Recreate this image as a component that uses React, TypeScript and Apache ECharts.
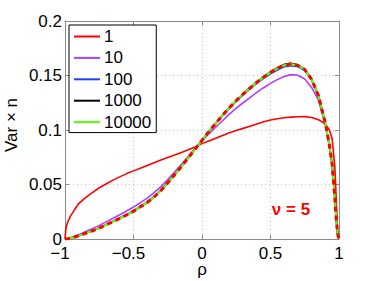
import React, { useEffect, useRef } from "react";
import * as echarts from "echarts";

const rho = [-1, -0.995, -0.99, -0.98, -0.96, -0.93, -0.9, -0.85, -0.8, -0.75, -0.7, -0.65, -0.6, -0.55, -0.5, -0.45, -0.4, -0.35, -0.3, -0.25, -0.2, -0.15, -0.1, -0.05, 0, 0.05, 0.1, 0.15, 0.2, 0.25, 0.3, 0.35, 0.4, 0.45, 0.5, 0.55, 0.6, 0.65, 0.7, 0.75, 0.8, 0.85, 0.9, 0.93, 0.95, 0.97, 0.98, 0.99, 0.995, 1];

const n1 = [0, 0.008, 0.0115, 0.0155, 0.021, 0.027, 0.0325, 0.038, 0.0425, 0.047, 0.0505, 0.054, 0.057, 0.06, 0.0625, 0.065, 0.0675, 0.07, 0.0725, 0.0748, 0.077, 0.0793, 0.0818, 0.0845, 0.0875, 0.09, 0.0925, 0.095, 0.0975, 0.0995, 0.1015, 0.1035, 0.1055, 0.1075, 0.1092, 0.1103, 0.1112, 0.1118, 0.1122, 0.1123, 0.1115, 0.1095, 0.1055, 0.1, 0.092, 0.066, 0.036, 0.008, 0.003, 0];

const n10 = [0, 0, 0.0002, 0.0005, 0.0012, 0.0025, 0.004, 0.0068, 0.0095, 0.0125, 0.0157, 0.019, 0.0222, 0.0257, 0.0293, 0.0333, 0.0375, 0.0425, 0.048, 0.0545, 0.0615, 0.0685, 0.0758, 0.0832, 0.0898, 0.0965, 0.1025, 0.1085, 0.1145, 0.12, 0.125, 0.1298, 0.1345, 0.1388, 0.1428, 0.1462, 0.149, 0.1508, 0.1502, 0.1468, 0.139, 0.1275, 0.105, 0.085, 0.068, 0.037, 0.018, 0.005, 0.002, 0];

const n100 = [0, 0, 0.0001, 0.0003, 0.0009, 0.002, 0.0032, 0.0055, 0.0078, 0.0104, 0.0134, 0.0164, 0.0195, 0.0226, 0.026, 0.03, 0.034, 0.039, 0.045, 0.052, 0.0595, 0.067, 0.0748, 0.0827, 0.0905, 0.0983, 0.1057, 0.113, 0.1198, 0.1262, 0.1322, 0.1376, 0.1428, 0.1474, 0.1515, 0.155, 0.158, 0.159, 0.158, 0.1545, 0.1458, 0.131, 0.1062, 0.0858, 0.0683, 0.037, 0.018, 0.005, 0.002, 0];

const n1000 = [0, 0, 0.0001, 0.0003, 0.0008, 0.0018, 0.003, 0.0052, 0.0075, 0.01, 0.013, 0.016, 0.019, 0.022, 0.0255, 0.0295, 0.0335, 0.0385, 0.0445, 0.0515, 0.059, 0.0665, 0.0745, 0.0825, 0.0905, 0.0985, 0.106, 0.1135, 0.1205, 0.1272, 0.1333, 0.1389, 0.1441, 0.149, 0.1534, 0.1572, 0.1602, 0.1613, 0.1598, 0.1558, 0.1467, 0.1316, 0.1066, 0.086, 0.0685, 0.037, 0.018, 0.005, 0.002, 0];

const n10000 = [0, 0, 0.0001, 0.0003, 0.0008, 0.0018, 0.003, 0.0052, 0.0075, 0.01, 0.013, 0.016, 0.019, 0.022, 0.0255, 0.0295, 0.0335, 0.0385, 0.0445, 0.0515, 0.059, 0.0665, 0.0745, 0.0825, 0.0905, 0.0985, 0.106, 0.1135, 0.1205, 0.127, 0.133, 0.1385, 0.1437, 0.1485, 0.1528, 0.1565, 0.1595, 0.1605, 0.1592, 0.1555, 0.1465, 0.1315, 0.1065, 0.086, 0.0685, 0.037, 0.018, 0.005, 0.002, 0];

const theory = [0, 0, 0.0001, 0.0003, 0.0008, 0.0018, 0.003, 0.0052, 0.0075, 0.01, 0.013, 0.016, 0.019, 0.022, 0.0255, 0.0295, 0.0335, 0.0385, 0.0445, 0.0515, 0.059, 0.0665, 0.0745, 0.0825, 0.0905, 0.0985, 0.106, 0.1135, 0.1205, 0.127, 0.133, 0.1385, 0.1437, 0.1485, 0.1528, 0.1565, 0.1595, 0.1605, 0.1592, 0.1555, 0.1465, 0.1315, 0.1065, 0.086, 0.0685, 0.037, 0.018, 0.005, 0.002, 0];

const legendNames = ["1", "10", "100", "1000", "10000"];
const seriesValues = [n1, n10, n100, n1000, n10000];
const colors = ["#ff0000", "#b23cff", "#1f3fff", "#000000", "#55ff00"];

const xTicks = { min: -1, max: 1, interval: 0.5 };
const yTicks = { min: 0, max: 0.2, interval: 0.05 };

const FONT = "'Liberation Sans', Arial, Helvetica, sans-serif";
const AXIS_COLOR = "#8a8a8a";

export default function App() {
  const ref = useRef<HTMLDivElement>(null);
  useEffect(() => {
    if (!ref.current) return;
    const chart = echarts.init(ref.current, null, { renderer: "svg" });
    const pairs = (ys: number[]) => rho.map((x, i) => [x, ys[i]]);
    const series: any[] = seriesValues.map((ys, i) => ({
      name: legendNames[i],
      type: "line",
      data: pairs(ys),
      symbol: "none",
      lineStyle: { color: colors[i], width: i === 4 ? 2.2 : 1.6 },
      itemStyle: { color: colors[i] },
      z: 2 + i,
    }));
    series.push({
      name: "theory",
      type: "line",
      data: pairs(theory),
      symbol: "none",
      lineStyle: { color: "#ff0000", width: 3, type: [5, 4] },
      itemStyle: { color: "#ff0000" },
      z: 10,
    });
    const axisCommon = {
      type: "value",
      axisLine: { show: true, onZero: false, lineStyle: { color: AXIS_COLOR, width: 1 } },
      axisTick: { show: true, inside: true, length: 4, lineStyle: { color: AXIS_COLOR } },
    };
    chart.setOption({
      animation: false,
      grid: { left: 65, right: 35, top: 21, bottom: 42, containLabel: false },
      legend: {
        data: legendNames,
        orient: "vertical",
        left: 69,
        top: 25,
        padding: [3, 5, 2, 5],
        icon: "rect",
        itemWidth: 26,
        itemHeight: 2,
        itemGap: 4.4,
        backgroundColor: "#fff",
        borderColor: "#000",
        borderWidth: 1,
        borderRadius: 0,
        textStyle: { fontSize: 17, fontFamily: FONT, color: "#000", lineHeight: 17, padding: [0, 0, 0, -1] },
      },
      xAxis: [
        {
          ...axisCommon,
          position: "bottom",
          ...xTicks,
          splitLine: { show: true, lineStyle: { color: "#c4c4c4", type: [1, 3], width: 1 } },
          axisLabel: {
            fontSize: 17,
            fontFamily: FONT,
            color: "#000",
            margin: 6,
            formatter: (v: number) => (v < 0 ? `{neg|−${Math.abs(v)}}` : `${v}`),
            rich: { neg: { fontSize: 17, fontFamily: FONT, color: "#000", padding: [0, 10, 0, 0] } },
          },
        },
        {
          ...axisCommon,
          position: "top",
          ...xTicks,
          splitLine: { show: false },
          axisLabel: { show: false },
        },
      ],
      yAxis: [
        {
          ...axisCommon,
          position: "left",
          ...yTicks,
          splitLine: { show: true, lineStyle: { color: "#c4c4c4", type: [1, 3], width: 1 } },
          axisLabel: { fontSize: 17, fontFamily: FONT, color: "#000", margin: 3, lineHeight: 12 },
        },
        {
          ...axisCommon,
          position: "right",
          ...yTicks,
          splitLine: { show: false },
          axisLabel: { show: false },
        },
      ],
      series,
      graphic: [
        {
          type: "text",
          x: 11.5,
          y: 125,
          rotation: Math.PI / 2,
          style: { text: "Var × n", fontSize: 17, fontFamily: FONT, fill: "#000", align: "center", verticalAlign: "middle" },
        },
        {
          type: "text",
          x: 202,
          y: 269,
          style: { text: "ρ", fontSize: 17, lineHeight: 12, fontFamily: FONT, fill: "#000", align: "center", verticalAlign: "middle" },
        },
        {
          type: "text",
          x: 291,
          y: 209.5,
          style: { text: "ν = 5", fontSize: 17, fontWeight: "bold", fontFamily: FONT, fill: "#ff0000", align: "center", verticalAlign: "middle" },
        },
      ],
    });
    return () => chart.dispose();
  }, []);
  return <div ref={ref} style={{ width: 374, height: 281, position: "absolute", left: 0, top: 0 }} />;
}
